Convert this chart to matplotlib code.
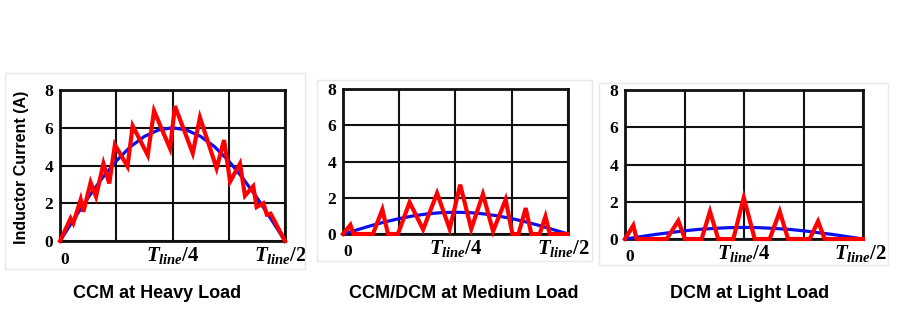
import matplotlib
matplotlib.use('Agg')
import matplotlib.pyplot as plt
from matplotlib.patches import Rectangle

plt.rcParams['mathtext.fontset'] = 'custom'
plt.rcParams['mathtext.it'] = 'Liberation Serif:italic:bold'
plt.rcParams['mathtext.rm'] = 'Liberation Serif:bold'
plt.rcParams['mathtext.bf'] = 'Liberation Serif:bold'

# time axis in units of T_line (0 .. T_line/2)
blue_t = [0, 1/32, 2/32, 3/32, 4/32, 5/32, 6/32, 7/32, 8/32,
          9/32, 10/32, 11/32, 12/32, 13/32, 14/32, 15/32, 16/32]

# average current envelopes (A)
heavy_avg = [0, 1.17, 2.3, 3.33, 4.24, 4.99, 5.54, 5.88, 6.0,
             5.88, 5.54, 4.99, 4.24, 3.33, 2.3, 1.17, 0]
medium_avg = [0, 0.23, 0.46, 0.67, 0.85, 1.0, 1.11, 1.18, 1.2,
              1.18, 1.11, 1.0, 0.85, 0.67, 0.46, 0.23, 0]
light_avg = [0, 0.12, 0.24, 0.34, 0.44, 0.52, 0.57, 0.61, 0.62,
             0.61, 0.57, 0.52, 0.44, 0.34, 0.24, 0.12, 0]

# inductor current vertices, x as fraction of T_line/2
heavy_x = [0, 0.047, 0.059, 0.092, 0.104, 0.136, 0.16, 0.193, 0.219, 0.244,
           0.3, 0.323, 0.39, 0.418, 0.489, 0.511, 0.59, 0.622, 0.696, 0.729,
           0.756, 0.8, 0.822, 0.859, 0.874, 0.904, 0.919, 0.936, 1.0]
heavy_i = [0, 1.2, 0.94, 2.2, 1.55, 3.1, 2.35, 4.1, 3.05, 5.1,
           3.95, 6.1, 4.55, 6.9, 4.9, 7.15, 4.65, 6.55, 3.85, 5.35,
           3.15, 4.1, 2.4, 2.9, 1.8, 2.0, 1.4, 1.45, 0]

medium_x = [0, 0.033, 0.047, 0.133, 0.175, 0.2, 0.244, 0.296, 0.356, 0.418,
            0.474, 0.521, 0.57, 0.622, 0.667, 0.723, 0.753, 0.78, 0.812, 0.837,
            0.874, 0.9, 0.919, 1.0]
medium_i = [0, 0.5, 0, 0, 1.35, 0, 0, 1.75, 0.25, 2.25,
            0.28, 2.72, 0.28, 2.2, 0.15, 1.9, 0, 0, 1.43, 0,
            0, 0.97, 0, 0]

light_x = [0, 0.035, 0.049, 0.175, 0.224, 0.252, 0.322, 0.357, 0.392, 0.455,
           0.499, 0.545, 0.608, 0.65, 0.685, 0.776, 0.811, 0.839, 1.0]
light_i = [0, 0.73, 0, 0, 0.98, 0, 0, 1.48, 0, 0,
           2.23, 0, 0, 1.48, 0, 0, 0.95, 0, 0]

titles = ['CCM at Heavy Load', 'CCM/DCM at Medium Load', 'DCM at Light Load']
y_ticks = [0, 2, 4, 6, 8]

fig = plt.figure(figsize=(9.12, 3.28), dpi=100)

# axes rectangles [left, bottom, width, height]
positions = [[0.0658, 0.2652, 0.2467, 0.4604],
             [0.3761, 0.2866, 0.2467, 0.4420],
             [0.6853, 0.2713, 0.2610, 0.4543]]
frames = [[0.0055, 0.1799, 0.329, 0.5976],
          [0.3476, 0.2043, 0.3015, 0.5518],
          [0.6568, 0.1920, 0.3169, 0.5550]]
title_x = [0.172, 0.509, 0.822]

avgs = [heavy_avg, medium_avg, light_avg]
xs = [heavy_x, medium_x, light_x]
cur = [heavy_i, medium_i, light_i]

for k in range(3):
    fig.add_artist(Rectangle(frames[k][:2], frames[k][2], frames[k][3],
                             transform=fig.transFigure, fill=False,
                             ec='#e8e8e8', lw=1.0))
    ax = fig.add_axes(positions[k])
    ax.set_xlim(0, 0.5)
    ax.set_ylim(0, 8)
    ax.set_xticks([0, 0.125, 0.25, 0.375, 0.5])
    ax.set_xticklabels([])
    ax.set_yticks(y_ticks)
    ax.set_yticklabels([str(v) for v in y_ticks], fontfamily='Liberation Serif',
                       fontweight='bold', fontsize=12.5)
    ax.tick_params(length=0, pad=5)
    ax.grid(True, color='#111111', lw=1.5)
    ax.set_axisbelow(True)
    for sp in ax.spines.values():
        sp.set_linewidth(2.0)
        sp.set_color('#111111')

    ax.plot(blue_t, avgs[k], color='#0a10ee', lw=2.3, clip_on=False, zorder=3)
    ax.plot([v * 0.5 for v in xs[k]], cur[k], color='#ff0000', lw=3.0,
            clip_on=False, zorder=4, solid_joinstyle='miter')

    ax.text(0.0, -0.07, '0', transform=ax.transAxes, ha='left', va='top',
            fontfamily='Liberation Serif', fontweight='bold', fontsize=12.5)
    ax.text(0.5, -0.025, r'$T_{line}/4$', transform=ax.transAxes, ha='center',
            va='top', fontsize=15)
    ax.text(1.10, -0.025, r'$T_{line}/2$', transform=ax.transAxes, ha='right',
            va='top', fontsize=15)

    fig.text(title_x[k], 0.104, titles[k], ha='center', va='center',
             fontfamily='Liberation Sans', fontweight='bold', fontsize=13)

fig.text(0.024, 0.49, 'Inductor Current (A)', rotation=90, ha='center',
         va='center', fontfamily='Liberation Sans', fontweight='bold', fontsize=11.5)

fig.savefig('out.png', dpi=100)
